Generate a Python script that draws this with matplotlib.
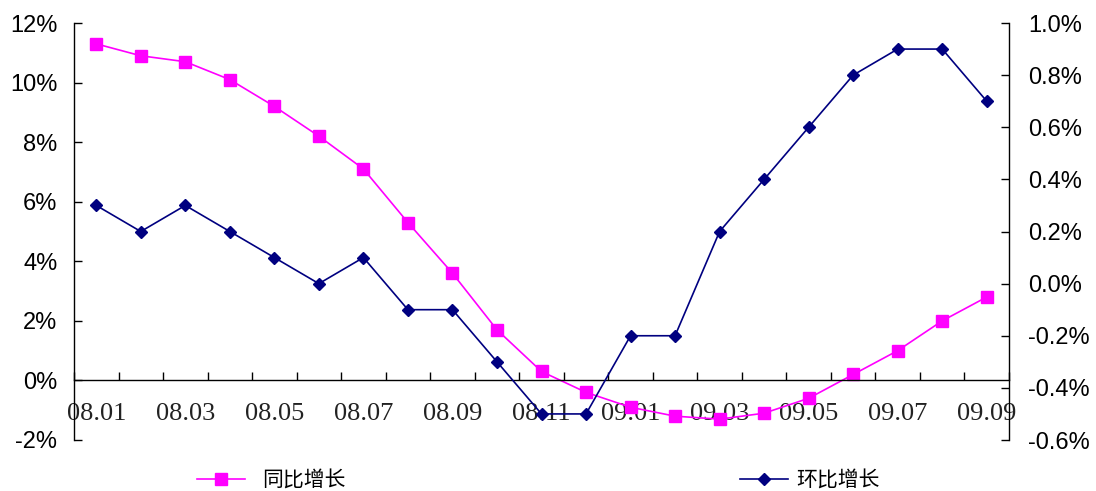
import numpy as np
import matplotlib
matplotlib.use('Agg')
from matplotlib import pyplot as plt
from matplotlib.ticker import FixedLocator, FuncFormatter

# 同比 / 环比 monthly growth, 2008.01 - 2009.09
months = ['08.01', '08.02', '08.03', '08.04', '08.05', '08.06', '08.07',
          '08.08', '08.09', '08.10', '08.11', '08.12', '09.01', '09.02',
          '09.03', '09.04', '09.05', '09.06', '09.07', '09.08', '09.09']
yoy = [11.3, 10.9, 10.7, 10.1, 9.2, 8.2, 7.1, 5.3, 3.6, 1.7, 0.3, -0.4,
       -0.9, -1.2, -1.3, -1.1, -0.6, 0.2, 1.0, 2.0, 2.8]
mom = [0.3, 0.2, 0.3, 0.2, 0.1, 0.0, 0.1, -0.1, -0.1, -0.3, -0.5, -0.5,
       -0.2, -0.2, 0.2, 0.4, 0.6, 0.8, 0.9, 0.9, 0.7]
yoy_name = '同比增长'
mom_name = '环比增长'

x = np.arange(len(months))

fig = plt.figure(figsize=(10.96, 4.91), dpi=100)
ax = fig.add_axes([74/1096, 1-440/491, 935/1096, 417/491])
ax2 = ax.twinx()

l1, = ax.plot(x, yoy, color='#FF00FF', lw=1.2, marker='s', ms=8, label=yoy_name)
l2, = ax2.plot(x, mom, color='#000080', lw=1.2, marker='D', ms=6.5, label=mom_name)

ax.set_xlim(-0.5, len(months) - 0.5)
ax.set_ylim(-2, 12)
ax2.set_ylim(-0.6, 1.0)

ax.set_yticks(np.arange(-2, 13, 2))
ax.yaxis.set_major_formatter(FuncFormatter(lambda v, p: f'{v:.0f}%'))
ax2.set_yticks(np.arange(-0.6, 1.01, 0.2))
ax2.yaxis.set_major_formatter(FuncFormatter(lambda v, p: f'{v:.1f}%' if abs(v) > 1e-9 else '0.0%'))

for a in (ax, ax2):
    a.spines['top'].set_visible(False)
ax.spines['right'].set_visible(False)
ax2.spines['left'].set_visible(False)
ax2.spines['bottom'].set_visible(False)
ax.spines['bottom'].set_position(('data', 0))

ax.tick_params(axis='y', direction='in', length=6, width=1, pad=12,
               labelsize=17, labelfontfamily='Liberation Sans')
ax2.tick_params(axis='y', direction='in', length=6, width=1, pad=14,
                labelsize=17, labelfontfamily='Liberation Sans')

# ticks between categories, labels on every other month
ax.xaxis.set_major_locator(FixedLocator(np.arange(-0.5, len(months), 1)))
ax.xaxis.set_minor_locator(FixedLocator(x[::2]))
ax.xaxis.set_major_formatter(FuncFormatter(lambda v, p: ''))
ax.xaxis.set_minor_formatter(FuncFormatter(lambda v, p: months[int(round(v))]))
ax.tick_params(axis='x', which='major', direction='in', length=6, width=1)
ax.tick_params(axis='x', which='minor', length=0, pad=16, labelsize=19,
               labelcolor='#222222', labelfontfamily='Liberation Serif')

for sp in ['left', 'bottom']:
    ax.spines[sp].set_linewidth(1)
ax2.spines['right'].set_linewidth(1)

leg_kw = dict(frameon=False, borderpad=0, borderaxespad=0,
              handlelength=2.3, loc='center left',
              prop={'family': ['Noto Sans CJK SC', 'DejaVu Sans'], 'size': 15})
fig.legend(handles=[l1], bbox_to_anchor=(197/1096, 1-480/491), handletextpad=0.85, **leg_kw)
fig.legend(handles=[l2], bbox_to_anchor=(740/1096, 1-480/491), handletextpad=0.4, **leg_kw)

fig.savefig('out.png', dpi=100)
